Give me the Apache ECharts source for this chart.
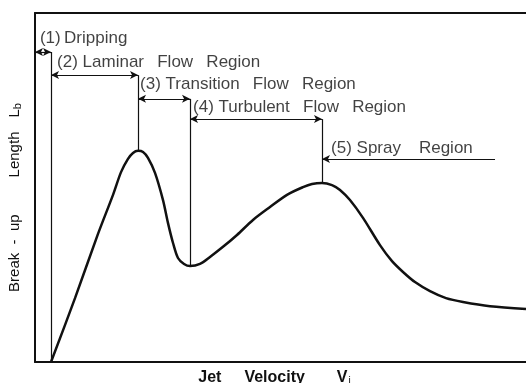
<!DOCTYPE html>
<html>
<head>
<meta charset="utf-8">
<script src="https://cdn.jsdelivr.net/npm/echarts@6/dist/echarts.min.js"></script>
<style>
html,body{margin:0;padding:0;background:#fff;}
#c{width:526px;height:383px;}
</style>
</head>
<body>
<div id="c"></div>
<script>
// ---- data (schematic, arbitrary units 0..100) ----
const curveX = [3.26, 8.15, 12.83, 15.89, 17.52, 18.94, 19.96, 20.98, 22.0, 23.01, 24.44, 26.07, 27.09, 28.11, 29.12, 30.35, 31.57, 33.6, 35.64, 38.29, 41.14, 44.4, 47.86, 51.32, 54.58, 56.42, 58.45, 60.49, 62.12, 64.15, 66.8, 70.26, 72.71, 74.95, 77.39, 80.45, 83.71, 87.17, 92.67, 100];
const curveY = [0, 18.3, 36.7, 47.9, 54.4, 58.2, 59.9, 60.5, 60.2, 58.5, 54.2, 46.4, 39.8, 34.1, 29.8, 28.1, 27.5, 28.1, 30.1, 33.0, 36.4, 40.7, 44.4, 47.9, 50.1, 51.0, 51.3, 50.7, 49.3, 46.4, 41.3, 33.5, 28.9, 25.8, 22.9, 20.3, 18.3, 17.2, 16.0, 15.2];
const G = '\u2002 '; // wide word gap as in the lettering
const regionNames = ['(1)\u2009Dripping', '(2) Laminar' + G + 'Flow' + G + 'Region', '(3) Transition' + G + 'Flow' + G + 'Region', '(4) Turbulent' + G + 'Flow' + G + 'Region', '(5) Spray' + G + ' Region'];
const regionStart = [0, 3.26, 20.98, 31.57, 58.45];
const regionEnd = [3.26, 20.98, 31.57, 58.45, 93.69];
const arrowLevel = [88.8, 82.2, 75.4, 69.6, 58.2];

// ---- layout ----
const labelPos = [[1.0, 92.8], [4.5, 86.0], [21.4, 79.7], [32.2, 73.1], [60.3, 61.3]];
const ink = '#111';
const font = 'Liberation Sans';

function curveAt(x) {
  const i = curveX.indexOf(x);
  return i >= 0 ? curveY[i] : 0;
}

const arrowLines = regionNames.map((n, i) => {
  const last = i === regionNames.length - 1;
  return [
    {coord: [regionStart[i], arrowLevel[i]], symbol: 'arrow'},
    {coord: [regionEnd[i], arrowLevel[i]], symbol: last ? 'none' : 'arrow'}
  ];
});
const boundaryLines = regionEnd.slice(0, 4).map((x, i) => [
  {coord: [x, arrowLevel[i]], symbol: 'none'},
  {coord: [x, curveAt(x)], symbol: 'none'}
]);

const chart = echarts.init(document.getElementById('c'));
chart.setOption({
  backgroundColor: '#fff',
  animation: false,
  grid: {left: 35, right: 0, top: 13, bottom: 21, containLabel: false, outerBoundsMode: 'none'},
  xAxis: [{
    type: 'value', min: 0, max: 100, position: 'bottom',
    axisLine: {show: true, lineStyle: {color: ink, width: 2}},
    axisTick: {show: false}, axisLabel: {show: false}, splitLine: {show: false},
    name: '{t|Jet}{g1| }{t|Velocity}{g2| }{t|V}{s|j}{g3| }', nameLocation: 'middle', nameGap: 7,
    nameTextStyle: {rich: {
      t: {fontFamily: font, fontSize: 16, fontWeight: 'bold', color: ink},
      g1: {width: 23},
      g2: {width: 32},
      g3: {width: 12},
      s: {fontFamily: font, fontSize: 10, color: ink, padding: [7, 0, 0, 1]}
    }}
  }, {
    type: 'value', min: 0, max: 100, position: 'top',
    axisLine: {show: true, lineStyle: {color: ink, width: 2}},
    axisTick: {show: false}, axisLabel: {show: false}, splitLine: {show: false}
  }],
  yAxis: {
    type: 'value', min: 0, max: 100,
    axisLine: {show: true, lineStyle: {color: ink, width: 2}},
    axisTick: {show: false}, axisLabel: {show: false}, splitLine: {show: false},
    name: '{t|Break  -  up}{g1| }{t|Length}{g2| }{t|L}{s|b}{g3| }', nameLocation: 'middle', nameGap: 12,
    nameTextStyle: {rich: {
      t: {fontFamily: font, fontSize: 15, color: ink},
      g1: {width: 37},
      g2: {width: 14},
      g3: {width: 20},
      s: {fontFamily: font, fontSize: 11, color: ink, padding: [6, 0, 0, 0]}
    }}
  },
  series: [{
    type: 'line',
    data: curveX.map((x, i) => [x, curveY[i]]),
    smooth: 0.3,
    symbol: 'none',
    lineStyle: {color: ink, width: 2.5},
    markLine: {
      silent: true,
      symbolSize: [6, 8],
      label: {show: false},
      lineStyle: {color: ink, width: 1.2, type: 'solid'},
      data: arrowLines.concat(boundaryLines)
    },
    z: 3
  }, {
    type: 'scatter',
    data: labelPos.map((p, i) => ({value: p, name: regionNames[i]})),
    symbolSize: 0,
    label: {
      show: true, position: 'right', distance: 0,
      formatter: p => p.name,
      fontFamily: font, fontSize: 17, color: ink
    }
  }]
});
</script>
</body>
</html>
